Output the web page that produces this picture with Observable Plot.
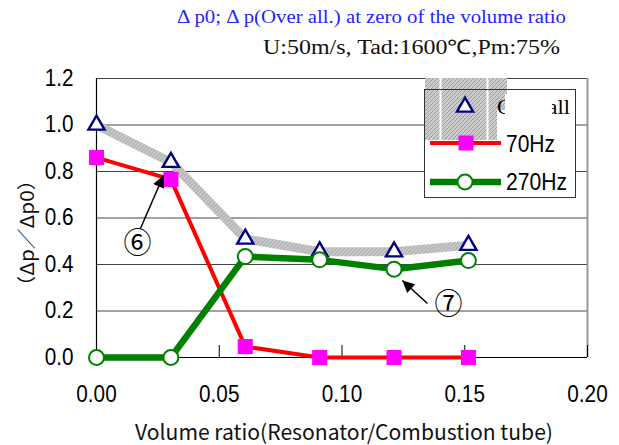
<!DOCTYPE html>
<html><head><meta charset="utf-8">
<script src="https://cdn.jsdelivr.net/npm/d3@7"></script>
<script src="https://cdn.jsdelivr.net/npm/@observablehq/plot@0.6"></script>
<style>
body{margin:0;background:#fff;}
#wrap{position:relative;width:619px;height:445px;overflow:hidden;background:#fff;}
</style></head><body><div id="wrap"></div>
<script>
// ---- data ----
const volumeRatio = [0, 0.0303, 0.0606, 0.0909, 0.1212, 0.1515];
const overall = [1.0, 0.84, 0.51, 0.455, 0.455, 0.483];
const hz70 = [0.86, 0.766, 0.047, 0, 0, 0];
const hz270 = [0, 0, 0.434, 0.42, 0.38, 0.417];
const xTicks = [0, 0.05, 0.10, 0.15, 0.20];
const yTicks = [0, 0.2, 0.4, 0.6, 0.8, 1.0, 1.2];
const seriesNames = ["Over all", "70Hz", "270Hz"];
const titleText = "Δ p0; Δ p(Over all.) at zero of the volume ratio";
const subtitleText = "U:50m/s, Tad:1600℃,Pm:75%";
const xLabel = "Volume ratio(Resonator/Combustion tube)";
const yLabel = "（Δp／Δp0）";
const annotLabels = ["⑥", "⑦"];
const annotLabelX = [0.0167, 0.1434];
const annotLabelY = [0.49, 0.224];
const arrowFromX = [0.0179, 0.1348];
const arrowFromY = [0.555, 0.232];
const arrowToX = [0.0273, 0.1246];
const arrowToY = [0.783, 0.331];

const rows = volumeRatio.map((x, i) => ({x, overall: overall[i], hz70: hz70[i], hz270: hz270[i]}));
const annots = annotLabels.map((t, i) => ({t, x: annotLabelX[i], y: annotLabelY[i],
  x1: arrowFromX[i], y1: arrowFromY[i], x2: arrowToX[i], y2: arrowToY[i]}));

const tickFont = "Liberation Sans, Arial, sans-serif";

const svg = Plot.plot({
  width: 619, height: 445,
  marginLeft: 96, marginRight: 32, marginTop: 78, marginBottom: 88,
  x: {domain: [0, 0.2]},
  y: {domain: [0, 1.2]},
  style: {fontFamily: tickFont, background: "white", color: "black"},
  marks: [
    Plot.gridY(yTicks, {stroke: "#444", strokeOpacity: 1, strokeWidth: 1}),
    Plot.ruleY([0], {stroke: "#000", strokeWidth: 1.2}),
    Plot.ruleX([0.2], {stroke: "#999", strokeWidth: 2}),
    Plot.ruleX([0], {stroke: "#000", strokeWidth: 1.2}),
    Plot.axisX({ticks: xTicks, tickSize: 12, dy: -12, text: null, stroke: "#000", label: null}),
    Plot.axisX({ticks: xTicks, tickSize: 0, tickPadding: 28, tickFormat: d3.format(".2f"), fontSize: 23, label: null}),
    Plot.axisY({ticks: yTicks, tickSize: 0, tickPadding: 23, tickFormat: d3.format(".1f"), fontSize: 23, label: null}),
    Plot.line(rows, {x: "x", y: "overall", stroke: "url(#hatchLine)", strokeWidth: 9}),
    Plot.dot(rows, {x: "x", y: "overall", symbol: "triangle", r: 6, stroke: "#000080", strokeWidth: 2.4, fill: "white"}),
    Plot.line(rows, {x: "x", y: "hz70", stroke: "#ff0000", strokeWidth: 4}),
    Plot.dot(rows, {x: "x", y: "hz70", symbol: "square", r: 8.5, fill: "#ff00ff", stroke: "none"}),
    Plot.line(rows, {x: "x", y: "hz270", stroke: "#008000", strokeWidth: 6.5}),
    Plot.dot(rows, {x: "x", y: "hz270", r: 7.5, fill: "white", stroke: "#008000", strokeWidth: 2}),
    Plot.link(annots, {x1: "x1", y1: "y1", x2: "x2", y2: "y2", stroke: "black", strokeWidth: 1.5}),
    Plot.text(annots, {x: "x", y: "y", text: "t", fontSize: 28, fontFamily: "Noto Sans CJK JP", fill: "black"})
  ]
});
document.getElementById("wrap").appendChild(svg);

const S = d3.select(svg);
const defs = S.insert("defs", ":first-child");
const pat = defs.append("pattern").attr("id", "hatchLine").attr("patternUnits", "userSpaceOnUse")
  .attr("width", 4).attr("height", 4);
pat.append("rect").attr("width", 4).attr("height", 4).attr("fill", "#cccccc");
pat.append("path").attr("d", "M0,4L4,0M-1,1L1,-1M3,5L5,3").attr("stroke", "#999").attr("stroke-width", 1);
defs.append("marker").attr("id", "arrowHead").attr("viewBox", "0 0 10 10").attr("refX", 10).attr("refY", 5)
  .attr("markerUnits", "userSpaceOnUse").attr("markerWidth", 18).attr("markerHeight", 12).attr("orient", "auto")
  .append("path").attr("d", "M0,0L10,5L0,10Z").attr("fill", "black");
S.selectAll('g[aria-label="link"] path, g[aria-label="link"] line').attr("marker-end", "url(#arrowHead)");

function squeeze(el, f) {
  const w = el.getComputedTextLength();
  el.setAttribute("textLength", w * f);
  el.setAttribute("lengthAdjust", "spacingAndGlyphs");
}
S.selectAll('g[aria-label="x-axis tick label"] text, g[aria-label="y-axis tick label"] text').each(function() { squeeze(this, 0.9); });

// titles
const T = S.append("g").attr("text-anchor", "start");
T.append("text").attr("x", 177).attr("y", 23).attr("font-family", "Liberation Serif, Times New Roman, serif")
  .attr("font-size", 18).attr("fill", "#2424ff").attr("textLength", 389).attr("lengthAdjust", "spacingAndGlyphs").text(titleText);
T.append("text").attr("x", 263).attr("y", 54).attr("font-family", "Liberation Serif, Times New Roman, serif")
  .attr("font-size", 20).attr("fill", "#111").attr("textLength", 297).attr("lengthAdjust", "spacingAndGlyphs").text(subtitleText);
T.append("text").attr("transform", "translate(27,233) rotate(-90)").attr("text-anchor", "middle").attr("dy", "0.35em")
  .attr("font-family", "Noto Sans CJK JP, sans-serif").attr("font-size", 19).attr("fill", "#111")
  .attr("textLength", 127).attr("lengthAdjust", "spacingAndGlyphs").text(yLabel);
T.append("text").attr("x", 135).attr("y", 440).attr("font-family", "Noto Sans CJK JP, sans-serif")
  .attr("font-size", 21).attr("fill", "#111").attr("textLength", 418).attr("lengthAdjust", "spacingAndGlyphs").text(xLabel);

// legend
const L = S.append("g").attr("text-anchor", "start");
L.append("rect").attr("x", 424.5).attr("y", 89.5).attr("width", 151).attr("height", 108).attr("fill", "white");
L.append("rect").attr("x", 425).attr("y", 78).attr("width", 82).attr("height", 62).attr("fill", "url(#hatchLine)");
L.append("rect").attr("x", 439.5).attr("y", 78).attr("width", 2).attr("height", 62).attr("fill", "white");
L.append("rect").attr("x", 486.5).attr("y", 78).attr("width", 2).attr("height", 62).attr("fill", "white");
L.append("rect").attr("x", 497).attr("y", 110).attr("width", 10).attr("height", 30).attr("fill", "white");
L.append("rect").attr("x", 424.5).attr("y", 89.5).attr("width", 151).attr("height", 108).attr("fill", "none").attr("stroke", "#333");
// row 1
L.append("path").attr("d", d3.symbol(d3.symbolTriangle, Math.PI * 36)()).attr("transform", "translate(465,107)")
  .attr("fill", "white").attr("stroke", "#000080").attr("stroke-width", 2.4);
L.append("text").attr("x", 497).attr("y", 114).attr("font-family", "Liberation Serif, serif").attr("font-size", 20)
  .attr("textLength", 73).attr("lengthAdjust", "spacingAndGlyphs").text(seriesNames[0]);
L.append("rect").attr("x", 505).attr("y", 94).attr("width", 47).attr("height", 26).attr("fill", "white");
// row 2
L.append("line").attr("x1", 430).attr("x2", 501).attr("y1", 143).attr("y2", 143).attr("stroke", "#ff0000").attr("stroke-width", 4);
L.append("rect").attr("x", 458.5).attr("y", 135.5).attr("width", 15).attr("height", 15).attr("fill", "#ff00ff");
L.append("text").attr("x", 506).attr("y", 152).attr("font-family", tickFont).attr("font-size", 24)
  .attr("textLength", 49).attr("lengthAdjust", "spacingAndGlyphs").text(seriesNames[1]);
// row 3
L.append("line").attr("x1", 430).attr("x2", 501).attr("y1", 182).attr("y2", 182).attr("stroke", "#008000").attr("stroke-width", 6.5);
L.append("circle").attr("cx", 465).attr("cy", 182).attr("r", 7.5).attr("fill", "white").attr("stroke", "#008000").attr("stroke-width", 2);
L.append("text").attr("x", 506).attr("y", 190).attr("font-family", tickFont).attr("font-size", 24)
  .attr("textLength", 61).attr("lengthAdjust", "spacingAndGlyphs").text(seriesNames[2]);
</script></body></html>
